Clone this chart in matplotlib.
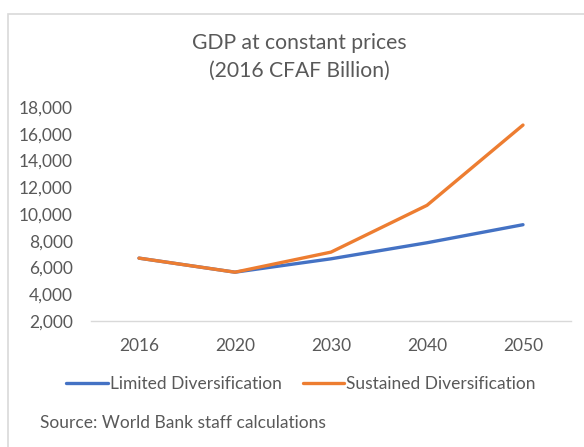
import matplotlib
matplotlib.use("Agg")
import matplotlib.pyplot as plt
from matplotlib.patches import Rectangle

years = ["2016", "2020", "2030", "2040", "2050"]
limited = [6700, 5650, 6650, 7850, 9200]
sustained = [6700, 5650, 7150, 10650, 16650]
y_ticks = [2000, 4000, 6000, 8000, 10000, 12000, 14000, 16000, 18000]

BLUE = "#4472C4"
ORANGE = "#ED7D31"
TEXT = "#595959"

plt.rcParams["font.family"] = ["Lato", "DejaVu Sans"]

W, H = 584, 447
fig = plt.figure(figsize=(W / 100, H / 100), dpi=100)

# light chart-area border, running off the right and bottom edges
fig.patches.append(Rectangle((8 / W, -0.1), 1.2, 1 - 14 / H + 0.1,
                             transform=fig.transFigure, fill=False,
                             edgecolor="#d9d9d9", linewidth=1.2))

ax = fig.add_axes([91 / W, 1 - 321 / H, 480 / W, 214 / H])
x = list(range(len(years)))
ax.plot(x, limited, color=BLUE, linewidth=2.4, label="Limited Diversification",
        solid_capstyle="round")
ax.plot(x, sustained, color=ORANGE, linewidth=2.4, label="Sustained Diversification",
        solid_capstyle="round")

ax.set_xlim(-0.5, len(years) - 0.5)
ax.set_ylim(2000, 18000)
ax.set_yticks(y_ticks)
ax.set_yticklabels([f"{v:,}" for v in y_ticks])
ax.set_xticks(x)
ax.set_xticklabels(years)
ax.tick_params(length=0, labelsize=12.5, colors=TEXT)
ax.tick_params(axis="x", pad=12)
ax.tick_params(axis="y", pad=13)
for side in ["top", "right", "left"]:
    ax.spines[side].set_visible(False)
ax.spines["bottom"].set_color("#d9d9d9")
ax.spines["bottom"].set_linewidth(1.0)

fig.text(299 / W, 1 - 43 / H, "GDP at constant prices", ha="center", va="center",
         fontsize=15.2, color=TEXT)
fig.text(299 / W, 1 - 71 / H, "(2016 CFAF Billion)", ha="center", va="center",
         fontsize=15.2, color=TEXT)

fig.legend(loc="center", bbox_to_anchor=(301 / W, 1 - 384 / H), ncol=2,
           frameon=False, fontsize=12.5, labelcolor=TEXT, handlelength=2.4,
           handletextpad=0.1, columnspacing=1.2)

fig.text(40 / W, 1 - 423 / H, "Source: World Bank staff calculations",
         ha="left", va="center", fontsize=12.5, color=TEXT)

fig.savefig("out.png", dpi=100)
